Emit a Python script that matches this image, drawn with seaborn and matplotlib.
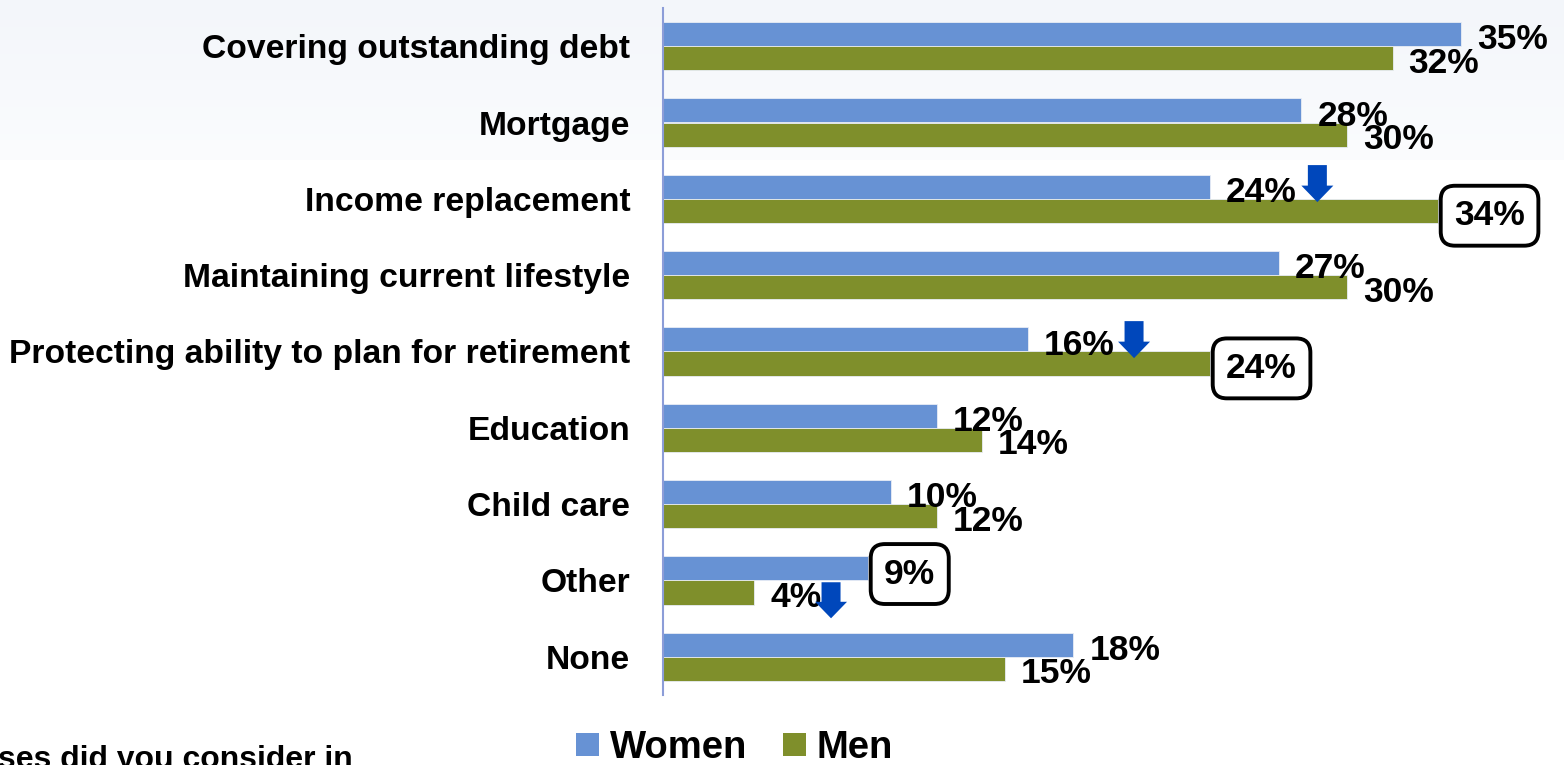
import numpy as np
import pandas as pd
import matplotlib
matplotlib.use("Agg")
import matplotlib.pyplot as plt
import seaborn as sns
from matplotlib.patches import Polygon, Patch

# ---- data -------------------------------------------------------------
categories = [
    "Covering outstanding debt",
    "Mortgage",
    "Income replacement",
    "Maintaining current lifestyle",
    "Protecting ability to plan for retirement",
    "Education",
    "Child care",
    "Other",
    "None",
]
women = [35, 28, 24, 27, 16, 12, 10, 9, 18]
men = [32, 30, 34, 30, 24, 14, 12, 4, 15]
groups = ["Women", "Men"]

# labels drawn inside a rounded frame
highlighted = [
    ("Men", "Income replacement"),
    ("Men", "Protecting ability to plan for retirement"),
    ("Women", "Other"),
]
# blue down arrows: x (in %), top and tip on the category axis
arrow_x = [28.7, 20.66, 7.37]
arrow_top = [1.558, 3.602, 7.023]
arrow_tip = [2.043, 4.087, 7.495]

footnote = "ses did you consider in"

df = pd.DataFrame({
    "category": categories * 2,
    "share": women + men,
    "group": ["Women"] * len(categories) + ["Men"] * len(categories),
})

# ---- style ------------------------------------------------------------
blue = "#6792D4"
olive = "#7F8F2B"
arrow_blue = "#0047BB"
spine_c = "#8C9DD8"

sns.set_theme(style="white")
plt.rcParams["font.family"] = ["Liberation Sans", "DejaVu Sans"]
plt.rcParams["text.color"] = "black"

W, H = 1564, 765
fig = plt.figure(figsize=(W / 100, H / 100), dpi=100)

# pale header gradient behind the chart
bg = fig.add_axes([0, 0, 1, 1], zorder=-5)
grad = np.ones((H, 1, 3))
c_top = np.array([243, 246, 250]) / 255
c_edge = np.array([251, 252, 254]) / 255
n_grad = 160
for i in range(n_grad):
    grad[i, 0, :] = c_top + (c_edge - c_top) * i / n_grad
bg.imshow(grad, aspect="auto", extent=[0, 1, 0, 1])
bg.axis("off")

left_px, top_px, bottom_px = 663, 8, 695
ax = fig.add_axes([left_px / W, 1 - bottom_px / H, 1 - left_px / W,
                   (bottom_px - top_px) / H])
ax.set_facecolor("none")

sns.barplot(
    data=df, y="category", x="share", hue="group",
    order=categories, hue_order=groups, orient="h",
    palette=[blue, olive], saturation=1, width=0.63,
    edgecolor="#E8EDF5", linewidth=0.6,
    ax=ax, legend=False, zorder=2,
)

px_per_pct = 22.8
xmax = (W - left_px) / px_per_pct
ax.set_xlim(0, xmax)
ax.set_ylim(len(categories) - 0.5, -0.5)

for s in ["top", "right", "bottom"]:
    ax.spines[s].set_visible(False)
ax.spines["left"].set_color(spine_c)
ax.spines["left"].set_linewidth(1.5)
ax.set_xticks([])
ax.set_xlabel("")
ax.set_ylabel("")

ax.set_yticks(range(len(categories)))
ax.set_yticklabels(categories, fontsize=24.2, fontweight="bold", color="black")
ax.tick_params(axis="y", which="major", length=0, pad=23.5)
ax.set_yticks(np.arange(-0.5, len(categories), 1), minor=True)
ax.tick_params(axis="y", which="minor", length=8, width=1.2,
               color=spine_c, direction="out")

# ---- value labels -----------------------------------------------------
values = {"Women": women, "Men": men}
for cont, grp in zip(ax.containers, groups):
    for bar in cont:
        yc = bar.get_y() + bar.get_height() / 2
        idx = int(round(yc))
        cat = categories[idx]
        v = values[grp][idx]
        box = None
        if (grp, cat) in highlighted:
            box = dict(boxstyle="round,pad=0.38,rounding_size=0.4",
                       fc="white", ec="black", lw=2.8)
        ax.annotate(
            f"{v}%", xy=(v, yc), xytext=(11.5, -4 if grp == "Women" else -3.5),
            textcoords="offset points", ha="left", va="center",
            fontsize=25.5, fontweight="bold", color="black",
            bbox=box, zorder=4, annotation_clip=False,
        )

# ---- down arrows ------------------------------------------------------
dx = 1 / px_per_pct
dy = len(categories) / (bottom_px - top_px)
shaft, head, head_h = 9.5 * dx, 16 * dx, 16.5 * dy
for x, t, tip in zip(arrow_x, arrow_top, arrow_tip):
    pts = [
        (x - shaft, t), (x + shaft, t), (x + shaft, tip - head_h),
        (x + head, tip - head_h), (x, tip), (x - head, tip - head_h),
        (x - shaft, tip - head_h),
    ]
    ax.add_patch(Polygon(pts, closed=True, fc=arrow_blue, ec="none", zorder=5))

# ---- legend -----------------------------------------------------------
handles = [Patch(facecolor=blue, edgecolor="none"),
           Patch(facecolor=olive, edgecolor="none")]
leg = fig.legend(
    handles, groups, loc="center", bbox_to_anchor=(734.5 / W, 1 - 748 / H),
    ncol=2, frameon=False, prop=dict(weight="bold", size=27.5),
    handlelength=0.6, handleheight=0.58, handletextpad=0.27,
    columnspacing=0.95, borderpad=0, borderaxespad=0,
)
for t in leg.get_texts():
    t.set_color("black")

fig.text(-2 / W, 1 - 768 / H, footnote, ha="left", va="baseline",
         fontsize=23, fontweight="bold", color="black")

fig.savefig("out.png", dpi=100)
